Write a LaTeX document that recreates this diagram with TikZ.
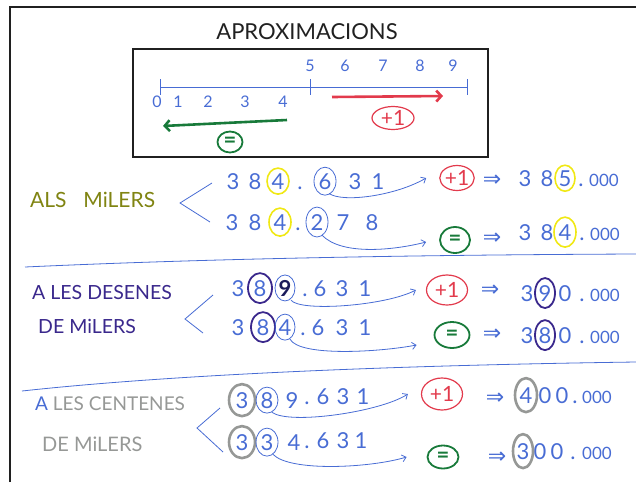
\documentclass[tikz,border=0pt]{standalone}
\usepackage{fontspec}
\setmainfont{Lato}
\newfontfamily\symfont{DejaVu Sans}
\usetikzlibrary{arrows.meta,shapes.geometric}

\definecolor{pen}{RGB}{72,108,212}
\definecolor{penred}{RGB}{226,58,76}
\definecolor{pengreen}{RGB}{24,122,58}
\definecolor{penyellow}{RGB}{240,232,20}
\definecolor{penolive}{RGB}{128,132,18}
\definecolor{penpurple}{RGB}{58,40,140}
\definecolor{pengray}{RGB}{150,152,150}
\definecolor{penink}{RGB}{32,32,32}
\definecolor{pennavy}{RGB}{26,26,90}

\tikzset{
  dig/.style={text=pen, font=\fontsize{22}{22}\selectfont, inner sep=0pt, anchor=base},
  small/.style={text=pen, font=\fontsize{17}{17}\selectfont, inner sep=0pt, anchor=base west},
  tick/.style={text=pen, font=\fontsize{16}{16}\selectfont, inner sep=0pt},
  lbl/.style={font=\fontsize{21}{21}\selectfont, inner sep=0pt, anchor=west},
  title/.style={text=penink, font=\fontsize{22}{22}\selectfont, inner sep=0pt},
  thinpen/.style={draw=pen, line width=0.8pt},
  link/.style={draw=pen, line width=0.8pt, -{Straight Barb[length=4pt,width=7pt]}},
  imp/.style={text=pen, font=\symfont\fontsize{22}{22}\selectfont, inner sep=0pt},
  redring/.style={ellipse, draw=penred, line width=1.2pt, text=penred,
    font=\fontsize{21}{21}\selectfont, inner sep=0pt},
  greenring/.style={ellipse, draw=pengreen, line width=1.8pt, text=pengreen,
    font=\fontsize{22}{22}\selectfont\bfseries, inner sep=0pt},
  yring/.style={draw=penyellow, line width=1.6pt},
  bring/.style={draw=pen, line width=0.8pt},
  pring/.style={draw=penpurple, line width=1.8pt},
  gring/.style={draw=pengray, line width=2.6pt},
  boxline/.style={draw=penink, line width=2.6pt},
  redarrow/.style={draw=penred, line width=2.6pt, -{Straight Barb[length=5pt,width=11pt]}},
  greenarrow/.style={draw=pengreen, line width=2.6pt, -{Straight Barb[length=5pt,width=11pt]}},
}

% a row of separate digits: name, baseline, list of x/char
\newcommand\digitrow[3]{%
  \foreach \px/\ch [count=\k] in {#3}{\node[dig] (#1-\k) at (\px,#2) {\ch};}}

\begin{document}
\begin{tikzpicture}[x=1pt,y=-1pt]
\useasboundingbox (0,0) rectangle (636,482);

% page frame
\draw[penink, line width=1.3pt] (10,482) -- (10,7) -- (636,7);

% title and number line box
\node[title] (title) at (307,32) {APROXIMACIONS};
\draw[boxline] (133,49) rectangle (488,157);

\coordinate (nl0) at (160,87);
\coordinate (nl5) at (310,87);
\coordinate (nl9) at (467,87);
\draw[thinpen] (nl0) -- (nl9);
\foreach \c in {nl0,nl5,nl9} \draw[thinpen] ([yshift=8pt]\c) -- ([yshift=-8pt]\c);
\foreach \px/\n in {157/0,178/1,208/2,245/3,283/4} \node[tick] (t\n) at (\px,102) {\n};
\foreach \px/\n in {310/5,345/6,383/7,420/8,453/9} \node[tick] (t\n) at (\px,66) {\n};

\coordinate (ra0) at (332,97);
\coordinate (ra1) at (443,96);
\draw[redarrow] (ra0) -- (ra1);
\node[redring, minimum width=42pt, minimum height=23pt] (pbox) at (393,118) {+1};

\coordinate (ga0) at (287,120);
\coordinate (ga1) at (163,126);
\draw[greenarrow] (ga0) -- (ga1);
\node[greenring, minimum width=25pt, minimum height=21pt] (ebox) at (230,142) {=};

% ---------- thousands ----------
\node[lbl, text=penolive] (als) at (30,200) {ALS\hspace{0.8em}MiLERS};
\draw[thinpen] (212,183) -- (180,203) -- (210,222);

\digitrow{r1}{189}{233/3,255/8,278/4,300/.,325/6,355/3,378/1}
\draw[yring] (r1-3) ellipse [x radius=11pt,y radius=13pt];
\draw[bring] (r1-5) ellipse [x radius=11pt,y radius=14pt];
\node[redring, minimum width=33pt, minimum height=25pt] (p1) at (457,178) {+1};
\draw[link] ([xshift=4pt,yshift=-4pt]r1-5.south) .. controls (342,203) and (395,196) .. ([xshift=-13pt]p1.west);
\node[imp] (i1) at (492,181) {⇒};
\digitrow{s1}{186}{525/3,547/8,565/5,581/.}
\node[small] (s1-z) at (589,186) {000};
\draw[yring] (s1-3) ellipse [x radius=10pt,y radius=13pt];

\digitrow{r2}{230}{232/3,255/8,280/4,298/.,317/2,343/7,372/8}
\draw[yring] (r2-3) ellipse [x radius=11pt,y radius=14pt];
\draw[bring] (r2-5) ellipse [x radius=11pt,y radius=15pt];
\node[greenring, minimum width=30pt, minimum height=26pt] (e1) at (455,240) {=};
\draw[link] ([xshift=5pt,yshift=-5pt]r2-5.south) .. controls (342,256) and (395,250) .. ([xshift=-13pt,yshift=-2pt]e1.west);
\node[imp] (i2) at (492,239) {⇒};
\digitrow{s2}{240}{525/3,547/8,565/4,582/.}
\node[small] (s2-z) at (590,240) {000};
\draw[yring] (s2-3) ellipse [x radius=11pt,y radius=15pt];

\draw[thinpen] (25,267) .. controls (200,259) and (400,255) .. (636,254);

% ---------- ten thousands ----------
\node[lbl, text=penpurple, font=\fontsize{19.5}{19.5}\selectfont] (des1) at (32,293) {A LES DESENES};
\node[lbl, text=penpurple, font=\fontsize{19.5}{19.5}\selectfont] (des2) at (38,326) {DE MiLERS};
\draw[thinpen] (213,295) -- (185,319) -- (203,333);

\digitrow{r3}{296}{238/3,260/8,285/{\color{pennavy}\bfseries 9},305/.,320/6,342/3,365/1}
\draw[pring] (r3-2) ellipse [x radius=12pt,y radius=15pt];
\draw[bring] (r3-3) ellipse [x radius=10pt,y radius=13pt];
\node[redring, minimum width=41pt, minimum height=30pt] (p2) at (447,290) {+1};
\draw[link] ([xshift=6pt,yshift=-4pt]r3-3.south) .. controls (300,312) and (385,306) .. ([xshift=-10pt]p2.west);
\node[imp] (i3) at (490,291) {⇒};
\digitrow{s3}{301}{527/3,545/9,565/0,582/.}
\node[small] (s3-z) at (590,301) {000};
\draw[pring] (s3-2) ellipse [x radius=10pt,y radius=15pt];

\digitrow{r4}{335}{238/3,263/8,285/4,303/.,318/6,342/3,365/1}
\draw[pring] (r4-2) ellipse [x radius=12pt,y radius=15pt];
\draw[bring] (r4-3) ellipse [x radius=10pt,y radius=13pt];
\node[greenring, minimum width=35pt, minimum height=26pt] (e2) at (452,335) {=};
\draw[link] ([xshift=5pt,yshift=-4pt]r4-3.south) .. controls (300,357) and (380,352) .. ([xshift=-17pt,yshift=-10pt]e2.west);
\node[imp] (i4) at (492,335) {⇒};
\digitrow{s4}{343}{527/3,545/8,565/0,582/.}
\node[small] (s4-z) at (590,343) {000};
\draw[pring] (s4-2) ellipse [x radius=10pt,y radius=15pt];

\draw[thinpen] (22,391) .. controls (150,377) and (350,366) .. (636,362);

% ---------- hundred thousands ----------
\node[lbl, text=pengray, font=\fontsize{19}{19}\selectfont] (cen1) at (35,404) {{\color{pen}A} LES CENTENES};
\node[lbl, text=pengray, font=\fontsize{20}{20}\selectfont] (cen2) at (42,444) {DE MiLERS};
\draw[thinpen] (220,408) -- (197,428) -- (223,452);

\digitrow{r5}{408}{242/3,267/8,292/9}
\digitrow{r5b}{404}{307/.,323/6,343/3,363/1}
\draw[gring] (r5-1) ellipse [x radius=13pt,y radius=16pt];
\draw[bring] (r5-2) ellipse [x radius=11pt,y radius=13pt];
\node[redring, minimum width=41pt, minimum height=32pt] (p3) at (442,394) {+1};
\draw[link] ([xshift=5pt,yshift=-4pt]r5-2.south) .. controls (290,425) and (380,412) .. ([xshift=-13pt]p3.west);
\node[imp] (i5) at (495,399) {⇒};
\digitrow{s5}{403}{526/4,545/0,562/0,575/.}
\node[small] (s5-z) at (582,403) {000};
\draw[gring] (s5-1) ellipse [x radius=11pt,y radius=17pt];

\digitrow{r6}{450}{242/3,267/3,294/4}
\digitrow{r6b}{448}{307/.,323/6,343/3,361/1}
\draw[gring] (r6-1) ellipse [x radius=13pt,y radius=16pt];
\draw[bring] (r6-2) ellipse [x radius=11pt,y radius=14pt];
\node[greenring, minimum width=31pt, minimum height=23pt] (e3) at (443,457) {=};
\draw[link] ([xshift=6pt,yshift=-4pt]r6-2.south) .. controls (290,472) and (370,468) .. ([xshift=-20pt]e3.west);
\node[imp] (i6) at (497,458) {⇒};
\digitrow{s6}{459}{523/3,540/0,557/0,573/.}
\node[small] (s6-z) at (582,459) {000};
\draw[gring] (s6-1) ellipse [x radius=10pt,y radius=17pt];

\end{tikzpicture}
\end{document}
